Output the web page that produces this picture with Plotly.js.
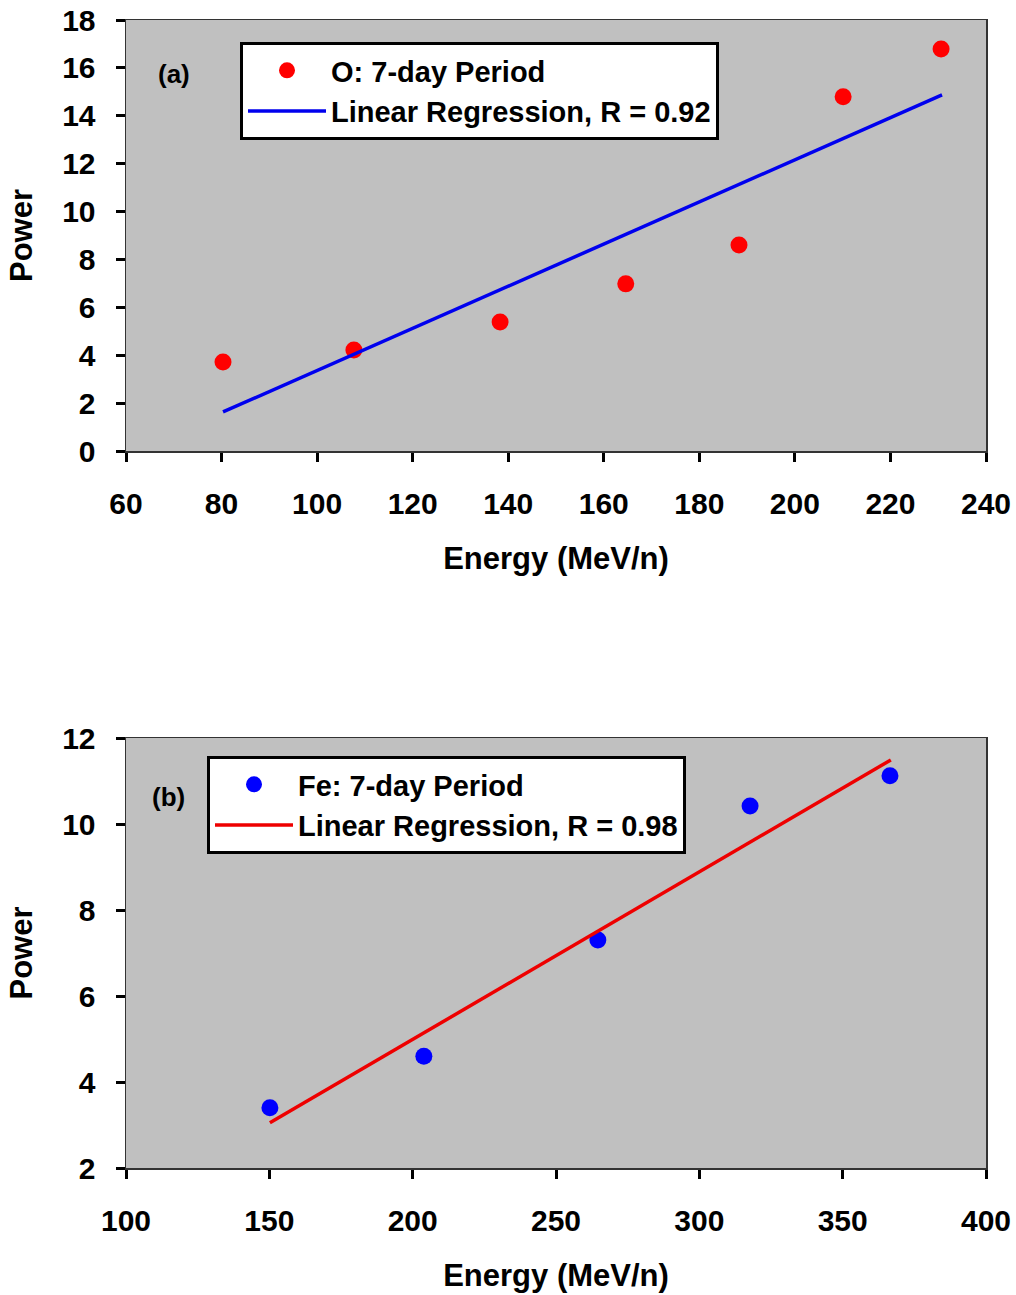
<!DOCTYPE html>
<html><head><meta charset="utf-8">
<script src="https://cdn.plot.ly/plotly-3.0.1.min.js"></script>
<style>html,body{margin:0;padding:0;background:#fff}#chart{width:1016px;height:1295px}</style>
</head><body><div id="chart"></div><script>
// ---- Data ----
const oEnergy = [80.3, 107.7, 138.3, 164.6, 188.3, 210.1, 230.6];
const oPower = [3.72, 4.22, 5.39, 6.98, 8.60, 14.79, 16.79];
const oFitEnergy = [80.3, 230.8];
const oFitPower = [1.63, 14.87];

const feEnergy = [150.2, 203.9, 264.6, 317.7, 366.5];
const fePower = [3.40, 4.60, 7.30, 10.42, 11.12];
const feFitEnergy = [150.2, 366.8];
const feFitPower = [3.05, 11.49];

const xTicksA = [60, 80, 100, 120, 140, 160, 180, 200, 220, 240];
const yTicksA = [0, 2, 4, 6, 8, 10, 12, 14, 16, 18];
const xTicksB = [100, 150, 200, 250, 300, 350, 400];
const yTicksB = [2, 4, 6, 8, 10, 12];

const legendA = ['O: 7-day Period', 'Linear Regression, R = 0.92'];
const legendB = ['Fe: 7-day Period', 'Linear Regression, R = 0.98'];
const panelLabels = ['(a)', '(b)'];
const xTitle = 'Energy (MeV/n)';
const yTitle = 'Power';

// ---- Layout helpers ----
const W = 1016, H = 1295;
const FONT = 'Arial, "Liberation Sans", sans-serif';
const px = v => v / W;
const py = v => 1 - v / H;

const tickFont = {family: FONT, size: 30, color: '#000', weight: 'bold'};
const titleFont = {family: FONT, size: 31, color: '#000', weight: 'bold'};

function axis(extra) {
  return Object.assign({
    showline: true, linecolor: '#333', linewidth: 1.5, mirror: true,
    ticks: 'outside', ticklen: 9, tickwidth: 3, tickcolor: '#000',
    showgrid: false, zeroline: false, fixedrange: true,
    tickfont: tickFont, tickmode: 'array'
  }, extra);
}

const traces = [
  {x: oEnergy, y: oPower, type: 'scatter', mode: 'markers', name: legendA[0],
   marker: {color: '#ff0000', size: 17}, xaxis: 'x', yaxis: 'y', legend: 'legend'},
  {x: oFitEnergy, y: oFitPower, type: 'scatter', mode: 'lines', name: legendA[1],
   line: {color: '#0000ee', width: 3.5}, xaxis: 'x', yaxis: 'y', legend: 'legend'},
  {x: feEnergy, y: fePower, type: 'scatter', mode: 'markers', name: legendB[0],
   marker: {color: '#0000ff', size: 17}, xaxis: 'x2', yaxis: 'y2', legend: 'legend2'},
  {x: feFitEnergy, y: feFitPower, type: 'scatter', mode: 'lines', name: legendB[1],
   line: {color: '#ee0000', width: 3.5}, xaxis: 'x2', yaxis: 'y2', legend: 'legend2'}
];

const legendCommon = {
  xanchor: 'left', yanchor: 'top', bgcolor: '#ffffff', bordercolor: '#000',
  borderwidth: 3, itemwidth: 78, tracegroupgap: 0,
  font: {family: FONT, size: 29, color: '#000', weight: 'bold'}
};

const layout = {
  width: W, height: H,
  margin: {l: 0, r: 0, t: 0, b: 0},
  paper_bgcolor: '#ffffff', plot_bgcolor: '#c0c0c0',
  showlegend: true,
  xaxis: axis({domain: [px(126), px(986)], range: [60, 240], tickvals: xTicksA, anchor: 'y',
    ticklabelstandoff: 16, title: {text: xTitle, font: titleFont, standoff: 29}}),
  yaxis: axis({domain: [py(451), py(20)], range: [0, 18], tickvals: yTicksA, anchor: 'x',
    ticklabelstandoff: 14, title: {text: yTitle, font: titleFont, standoff: 20}}),
  xaxis2: axis({domain: [px(126), px(986)], range: [100, 400], tickvals: xTicksB, anchor: 'y2',
    ticklabelstandoff: 16, title: {text: xTitle, font: titleFont, standoff: 29}}),
  yaxis2: axis({domain: [py(1168), py(738)], range: [2, 12], tickvals: yTicksB, anchor: 'x2',
    ticklabelstandoff: 14, title: {text: yTitle, font: titleFont, standoff: 20}}),
  legend: Object.assign({x: px(240), y: py(42)}, legendCommon),
  legend2: Object.assign({x: px(207), y: py(756)}, legendCommon),
  annotations: [
    {xref: 'paper', yref: 'paper', x: px(174), y: py(74), text: panelLabels[0], showarrow: false,
     xanchor: 'center', yanchor: 'middle', font: {family: FONT, size: 26, color: '#000', weight: 'bold'}},
    {xref: 'paper', yref: 'paper', x: px(168), y: py(797), text: panelLabels[1], showarrow: false,
     xanchor: 'center', yanchor: 'middle', font: {family: FONT, size: 26, color: '#000', weight: 'bold'}}
  ]
};

Plotly.newPlot('chart', traces, layout, {displayModeBar: false, staticPlot: true});
</script></body></html>
